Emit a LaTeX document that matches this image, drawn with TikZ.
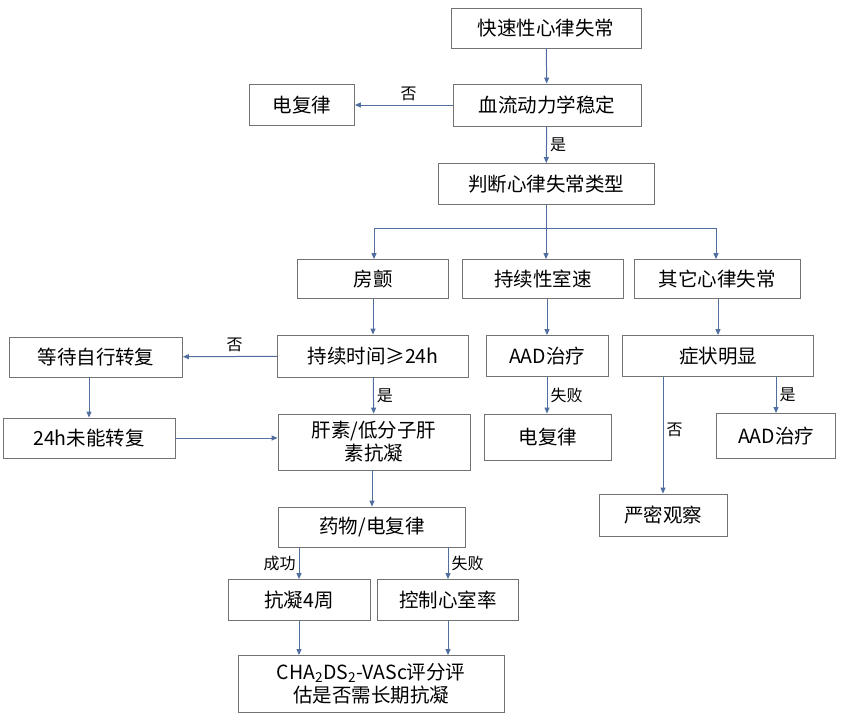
\documentclass[tikz,border=0pt]{standalone}
\usepackage{fontspec}
\setmainfont{Noto Sans CJK SC}
\usetikzlibrary{arrows.meta}
\definecolor{arc}{RGB}{80,110,160}
\begin{document}
\begin{tikzpicture}[x=1pt,y=-1pt,
  bx/.style={draw=black!55,line width=0.8pt,fill=white,inner sep=0pt,align=center,font=\fontsize{19.5}{23}\selectfont},
  ar/.style={draw=arc,line width=1pt,-{Triangle[length=6pt,width=5pt]}},
  ln/.style={draw=arc,line width=1pt},
  lb/.style={font=\fontsize{16}{18}\selectfont,inner sep=1pt}]
\useasboundingbox (0,0) rectangle (843,720);
\newcommand{\bxn}[6]{\node[bx,minimum width=#4pt,minimum height=#5pt] (#1) at (#2,#3) {#6};}
\bxn{a}{546}{28}{190}{40}{快速性心律失常}
\bxn{b}{547}{105}{188}{42}{血流动力学稳定}
\bxn{e1}{302}{105}{105}{41}{电复律}
\bxn{c}{546}{184}{216}{41}{判断心律失常类型}
\bxn{f}{373}{279}{151}{39}{房颤}
\bxn{v}{543}{279}{161}{39}{持续性室速}
\bxn{o}{717}{279}{166}{39}{其它心律失常}
\bxn{d}{373}{356}{191}{42}{持续时间≥24h}
\bxn{w}{96}{357}{173}{40}{等待自行转复}
\bxn{h}{374}{442}{192}{56}{肝素/低分子肝\\素抗凝}
\bxn{n}{89}{438}{172}{40}{24h未能转复}
\bxn{m}{372}{527}{187}{40}{药物/电复律}
\bxn{k}{299}{600}{142}{41}{抗凝4周}
\bxn{r}{448}{600}{141}{41}{控制心室率}
\bxn{cha}{371}{684}{266}{57}{CHA\textsubscript{2}DS\textsubscript{2}-VASc评分评\\估是否需长期抗凝}
\bxn{aad}{547}{356}{122}{41}{AAD治疗}
\bxn{e2}{548}{437}{127}{46}{电复律}
\bxn{s}{718}{356}{191}{41}{症状明显}
\bxn{aad2}{776}{436}{119}{45}{AAD治疗}
\bxn{obs}{663}{515}{128}{42}{严密观察}
\draw[ar] (a) -- (b);
\draw[ar] (b) -- (e1) node[lb,pos=0.45,above=3pt]{否};
\draw[ar] (b) -- (c) node[lb,midway,right=2pt]{是};
\coordinate (j) at (546,228);
\draw[ln] (c) -- (j);
\draw[ln] (374,228) -- (716,228);
\draw[ar] (374,228) -- (f.north -| 374,0);
\draw[ar] (j) -- (v.north -| 546,0);
\draw[ar] (716,228) -- (o.north -| 716,0);
\draw[ar] (f) -- (d);
\draw[ar] (d) -- (w) node[lb,pos=0.45,above=3pt]{否};
\draw[ar] (d) -- (h) node[lb,midway,right=2pt]{是};
\draw[ar] (w.south -| n) -- (n);
\draw[ar] (n) -- (n -| h.west);
\draw[ar] (h.south -| m) -- (m);
\draw[ar] (m.south -| k) -- (k) node[lb,midway,left=2pt]{成功};
\draw[ar] (m.south -| r) -- (r) node[lb,midway,right=2pt]{失败};
\draw[ar] (k) -- (k |- cha.north);
\draw[ar] (r) -- (r |- cha.north);
\draw[ar] (v.south -| aad) -- (aad);
\draw[ar] (aad) -- (aad |- e2.north) node[lb,midway,right=2pt]{失败};
\draw[ar] (o.south -| s) -- (s);
\draw[ar] (s.south -| aad2) -- (aad2) node[lb,midway,right=2pt]{是};
\draw[ar] (s.south -| obs) -- (obs) node[lb,pos=0.45,right=2pt]{否};
\end{tikzpicture}
\end{document}
